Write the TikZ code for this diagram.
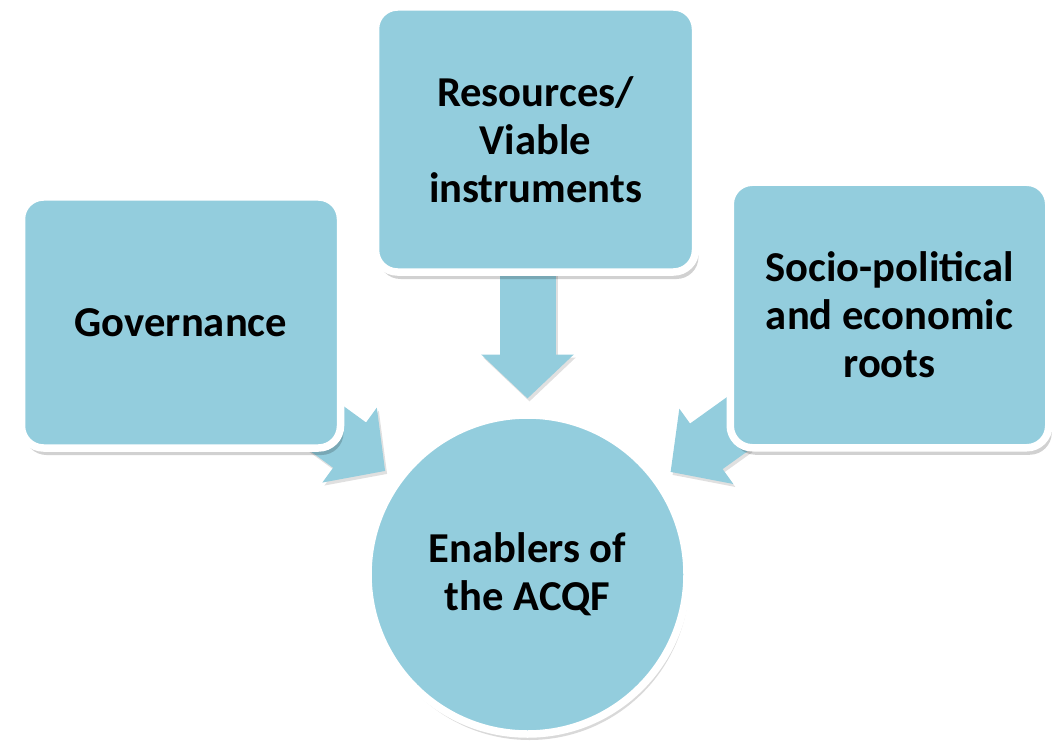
\documentclass[tikz,border=0pt]{standalone}
\usepackage{fontspec}
\setmainfont{Carlito}
\usetikzlibrary{arrows.meta,shadows,backgrounds}
\definecolor{aqua}{HTML}{93CDDD}
\begin{document}
\begin{tikzpicture}[x=1pt, y=-1pt,
  font=\bfseries\fontsize{42.6}{48}\selectfont,
  box/.style={draw=white, line width=7.5pt, fill=aqua, rounded corners=22pt, align=center, inner sep=0pt,
    drop shadow={shadow xshift=3pt, shadow yshift=-7pt, opacity=0.18, fill=black}},
  hub/.style={circle, draw=white, line width=7.5pt, fill=aqua, minimum size=319pt, align=center, inner sep=0pt,
    drop shadow={shadow xshift=2pt, shadow yshift=-6pt, opacity=0.15, fill=black}},
  flow/.style={line width=56pt, draw=aqua, -{Triangle[length=44pt, width=90pt]}, shorten >=176pt},
  flowshade/.style={flow, draw=black!12, transform canvas={xshift=2pt, yshift=-3pt}}]
\useasboundingbox (0,0) rectangle (1054,751);
\node[box, minimum width=319pt, minimum height=251pt] (gov) at (181,322.5) {Governance};
\node[box, minimum width=320pt, minimum height=265pt] (res) at (535.5,139.5) {Resources/\\Viable\\instruments};
\node[box, minimum width=318.5pt, minimum height=265.5pt] (soc) at (889.5,315) {Socio-political\\and economic\\roots};
\node[hub] (enab) at (527.5,574.5) {Enablers of\\the ACQF};
\begin{pgfonlayer}{background}
\draw[flowshade] (gov.center) -- (enab.center);
\draw[flowshade] (res.center -| enab.center) -- (enab.center);
\draw[flowshade] (soc.center) -- (enab.center);
\draw[flow] (gov.center) -- (enab.center);
\draw[flow] (res.center -| enab.center) -- (enab.center);
\draw[flow] (soc.center) -- (enab.center);
\end{pgfonlayer}
\end{tikzpicture}
\end{document}
